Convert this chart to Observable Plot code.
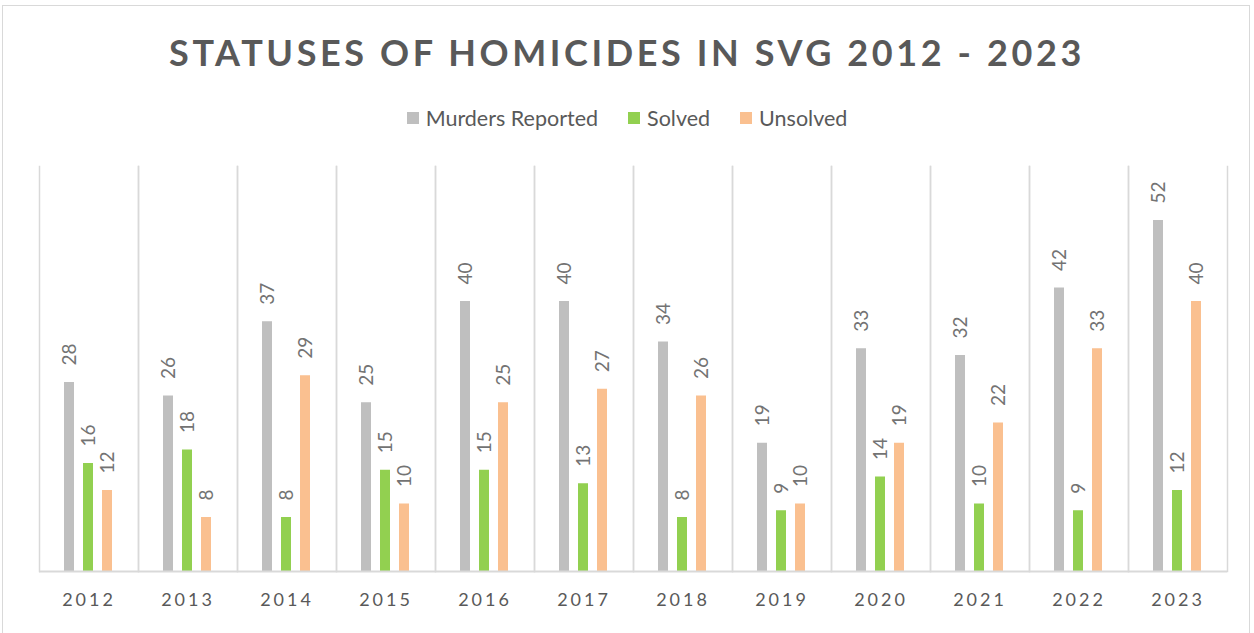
<!DOCTYPE html>
<html>
<head>
<meta charset="utf-8">
<script src="https://cdn.jsdelivr.net/npm/d3@7"></script>
<script src="https://cdn.jsdelivr.net/npm/@observablehq/plot@0.6"></script>
<style>
  html, body { margin: 0; padding: 0; background: #fff; }
  #wrap { position: relative; width: 1254px; height: 633px; overflow: hidden; font-family: Lato, "Open Sans", sans-serif; }
  #frame { position: absolute; left: 2px; top: 5px; width: 1248px; height: 640px; border: 1.5px solid #d9d9d9; box-sizing: border-box; }
  #title { position: absolute; left: 0; width: 1254px; top: 30px; text-align: center; font-size: 36px; font-weight: 700; color: #595959; letter-spacing: 3.6px; }
  #legend { position: absolute; left: 0; width: 1254px; top: 105px; display: flex; justify-content: center; gap: 30px; font-size: 21.5px; color: #595959; }
  .item { display: flex; align-items: center; gap: 7px; }
  .sw { width: 12px; height: 12px; display: inline-block; }
  #chart { position: absolute; left: 0; top: 140px; }
  #chart g[aria-label="fx-axis tick label"] text { letter-spacing: 3px; }
</style>
</head>
<body>
<div id="wrap">
  <div id="frame"></div>
  <div id="title"></div>
  <div id="legend"></div>
  <div id="chart"></div>
</div>
<script>
const years = ["2012","2013","2014","2015","2016","2017","2018","2019","2020","2021","2022","2023"];
const seriesNames = ["Murders Reported", "Solved", "Unsolved"];
const reported = [28, 26, 37, 25, 40, 40, 34, 19, 33, 32, 42, 52];
const solved   = [16, 18, 8, 15, 15, 13, 8, 9, 14, 10, 9, 12];
const unsolved = [12, 8, 29, 10, 25, 27, 26, 10, 19, 22, 33, 40];
const colors = ["#bfbfbf", "#92d050", "#fac090"];
const titleText = "STATUSES OF HOMICIDES IN SVG 2012 - 2023";

document.getElementById("title").textContent = titleText;
const legend = document.getElementById("legend");
seriesNames.forEach((s, i) => {
  const it = document.createElement("div");
  it.className = "item";
  const sw = document.createElement("span");
  sw.className = "sw";
  sw.style.background = colors[i];
  const t = document.createElement("span");
  t.textContent = s;
  it.appendChild(sw); it.appendChild(t);
  legend.appendChild(it);
});

const vals = [reported, solved, unsolved];
const data = [];
years.forEach((y, j) => {
  seriesNames.forEach((s, i) => data.push({year: y, series: s, value: vals[i][j]}));
});

const W = 1254, H = 493;
const chart = Plot.plot({
  width: W,
  height: H,
  marginTop: 26,
  marginBottom: 62,
  marginLeft: 38,
  marginRight: 27,
  style: {fontFamily: "Lato, 'Open Sans', sans-serif", background: "transparent"},
  fx: {domain: years, padding: 0, label: null, axis: "bottom", tickSize: 0, tickPadding: 22},
  x: {domain: seriesNames, paddingInner: 0.45, paddingOuter: 1.205, axis: null},
  y: {domain: [0, 60], axis: null},
  color: {domain: seriesNames, range: colors},
  marks: [
    Plot.frame({anchor: "left", stroke: "#d9d9d9", strokeWidth: 1.5}),
    Plot.frame({anchor: "right", stroke: "#d9d9d9", strokeWidth: 1.5}),
    Plot.barY(data, {fx: "year", x: "series", y: "value", fill: "series"}),
    Plot.ruleY([0], {stroke: "#d9d9d9", strokeWidth: 2}),
    Plot.text(data, {fx: "year", x: "series", y: "value", text: d => String(d.value), rotate: -90, textAnchor: "start", lineAnchor: "middle", dy: -17, fontSize: 19, fill: "#737373"})
  ]
});
d3.select(chart).selectAll('g[aria-label="fx-axis tick label"]').attr("font-size", 18).attr("fill", "#595959");
d3.select(chart).selectAll('g[aria-label="fx-axis tick label"] text').attr("font-size", 18).attr("fill", "#595959");
document.getElementById("chart").appendChild(chart);
</script>
</body>
</html>
